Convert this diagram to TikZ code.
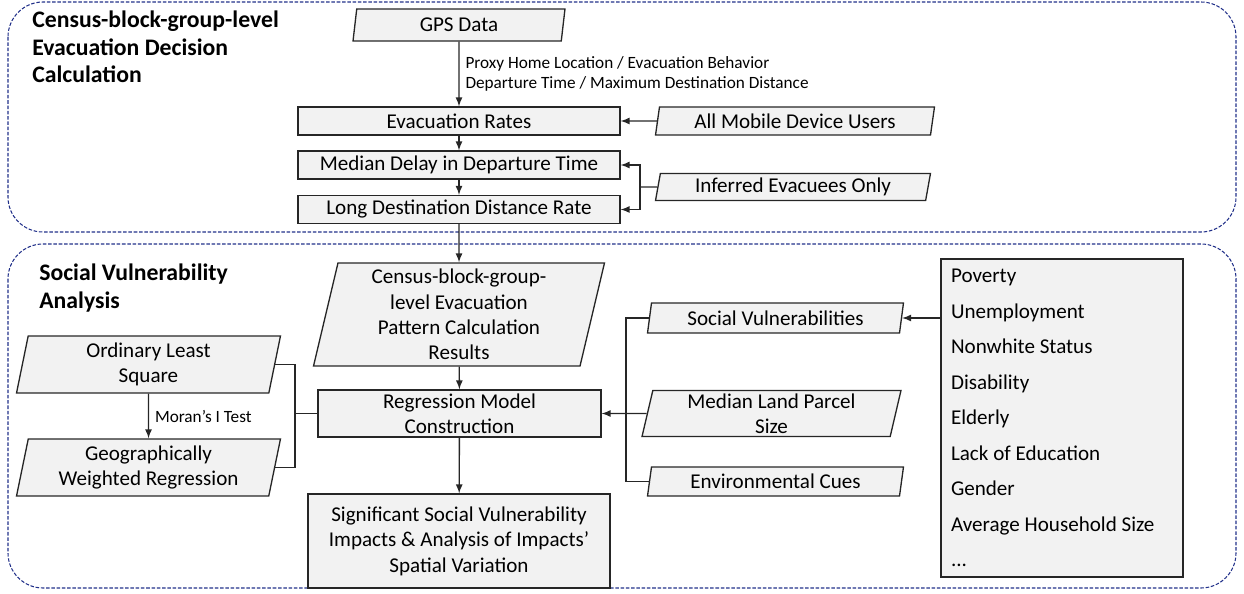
\documentclass[tikz,border=0pt]{standalone}
\usepackage{fontspec}
\setmainfont{Carlito}
\usepackage{tikz}
\usetikzlibrary{arrows,shapes.geometric}
\definecolor{frameblue}{HTML}{22318A}
\definecolor{boxgray}{HTML}{F2F2F2}
\tikzset{
  box/.style={draw=black!85, fill=boxgray, line width=0.75pt, font=\fontsize{12}{14.5}\selectfont, align=center, inner sep=0pt},
  para/.style={box, trapezium, trapezium left angle=75, trapezium right angle=105, trapezium stretches body},
  area/.style={draw=frameblue, line width=0.6pt, dash pattern=on 2pt off 1pt, rounded corners=0.7cm},
  head/.style={font=\fontsize{13.5}{15.6}\selectfont\bfseries, align=left, anchor=north west, inner sep=0pt},
  lbl/.style={font=\fontsize{9.8}{11.4}\selectfont, align=left},
  conn/.style={line width=0.75pt, draw=black!85},
  arr/.style={conn, -latex}
}

\begin{document}
\begin{tikzpicture}[x=0.02cm, y=-0.02cm]
	\useasboundingbox (0,0) rectangle (1244,594);
	\draw [area] (8,2) rectangle (1236,232);
	\draw [area] (8,244) rectangle (1236,588);
	\node [head] (T1) at (32,11) {Census-block-group-level\\Evacuation Decision\\Calculation};
	\node [head] (T2) at (39,264) {Social Vulnerability\\Analysis};

	\node [para, minimum width=4.24cm, minimum height=0.64cm] (GPS) at (459,25) {GPS Data};
	\node [box, minimum width=6.44cm, minimum height=0.56cm] (ER) at (459,121) {Evacuation Rates};
	\node [box, minimum width=6.44cm, minimum height=0.56cm] (MD) at (459,165) {Median Delay in Departure Time};
	\node [box, minimum width=6.44cm, minimum height=0.56cm] (LD) at (459,209.5) {Long Destination Distance Rate};
	\node [para, minimum width=5.58cm, minimum height=0.56cm] (AM) at (795,121) {All Mobile Device Users};
	\node [para, minimum width=5.5cm, minimum height=0.54cm] (IE) at (793,187) {Inferred Evacuees Only};

	\node [para, minimum width=5.82cm, minimum height=2.06cm] (CP) at (459,314.5) {Census-block-group-\\level Evacuation\\Pattern Calculation\\Results};
	\node [box, minimum width=5.66cm, minimum height=0.94cm] (RM) at (459.5,413.5) {Regression Model\\Construction};
	\node [box, minimum width=6.04cm, minimum height=1.88cm] (SI) at (459,541) {Significant Social Vulnerability\\Impacts \& Analysis of Impacts'\\Spatial Variation};
	\node [para, minimum width=5.28cm, minimum height=1.14cm] (OLS) at (148.5,364.5) {Ordinary Least\\Square};
	\node [para, minimum width=5.28cm, minimum height=1.14cm] (GWR) at (148.5,467.5) {Geographically\\Weighted Regression};
	\node [para, minimum width=5.12cm, minimum height=0.6cm] (SV) at (775.5,318) {Social Vulnerabilities};
	\node [para, minimum width=5.18cm, minimum height=0.92cm] (ML) at (771.5,413.5) {Median Land Parcel\\Size};
	\node [para, minimum width=5.12cm, minimum height=0.58cm] (EC) at (775.5,481.5) {Environmental Cues};
	\node [box, text width=4.44cm, inner xsep=0.2cm, minimum height=6.36cm, align=flush left, font=\fontsize{12}{20.2}\selectfont] (LIST) at (1062,418) {Poverty\\Unemployment\\Nonwhite Status\\Disability\\Elderly\\Lack of Education\\Gender\\Average Household Size\\...};

	\draw [arr] (GPS) -- node [lbl, right] {Proxy Home Location / Evacuation Behavior\\Departure Time / Maximum Destination Distance} (ER);
	\draw [arr] (ER) -- (MD);
	\draw [arr] (MD) -- (LD);
	\draw [arr] (AM) -- (ER);
	\coordinate (IEj) at (640,187);
	\draw [conn] (IE) -- (IEj);
	\draw [arr] (IEj) |- (MD);
	\draw [arr] (IEj) |- (LD);
	\draw [arr] (LD) -- (CP);
	\draw [arr] (CP) -- (RM);
	\draw [arr] (RM) -- (SI);
	\draw [arr] (OLS) -- node [lbl, right] {Moran's I Test} (GWR);
	\coordinate (OGj) at (295,413.5);
	\draw [conn] (OLS.east) -| (OGj) |- (GWR.east);
	\draw [conn] (OGj) -- (RM);
	\coordinate (SVj) at (626,413.5);
	\draw [conn] (SV.west) -| (SVj) |- (EC.west);
	\draw [arr] (ML) -- (RM);
	\draw [arr] (LIST.west |- SV.east) -- (SV.east);
\end{tikzpicture}
\end{document}
